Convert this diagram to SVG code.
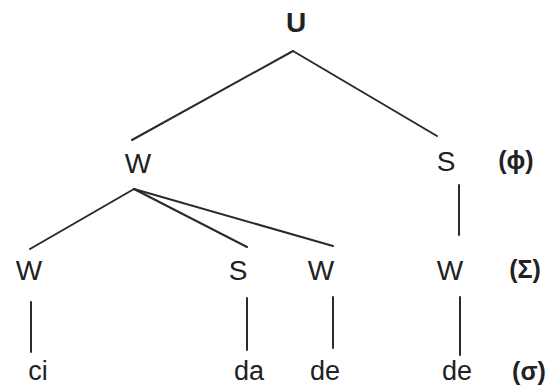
<svg xmlns="http://www.w3.org/2000/svg" width="548" height="387" viewBox="0 0 548 387">
<style>
.t{font-family:"Liberation Sans",Arial,sans-serif;font-size:28px;fill:#222;text-anchor:middle}
.b{font-weight:bold}
.s{font-size:27px}
.l{font-family:"Liberation Sans",Arial,sans-serif;font-size:25px;font-weight:bold;fill:#222;text-anchor:middle}
.c line{stroke:#2a2a2a;stroke-width:2;stroke-linecap:round}
</style>
<rect width="548" height="387" fill="#fff"/>
<g class="c" id="connectors">
<line x1="293" y1="51" x2="132" y2="140"/>
<line x1="293" y1="51" x2="437" y2="136"/>
<line x1="134" y1="189" x2="30" y2="249"/>
<line x1="134" y1="189" x2="247" y2="247"/>
<line x1="134" y1="189" x2="333" y2="246"/>
<line x1="31" y1="302" x2="31" y2="352"/>
<line x1="247" y1="298" x2="247" y2="350"/>
<line x1="333" y1="297" x2="333" y2="348"/>
<line x1="459" y1="185" x2="459" y2="235"/>
<line x1="460" y1="297" x2="460" y2="355"/>
</g>
<g id="n-U"><text class="t b" x="296" y="32" font-size="27">U</text></g>
<g id="n-W1"><text class="t" x="138" y="173">W</text></g>
<g id="n-S1"><text class="t" x="446" y="171">S</text></g>
<g id="n-W2a"><text class="t" x="29" y="280">W</text></g>
<g id="n-S2"><text class="t" x="238" y="280">S</text></g>
<g id="n-W2b"><text class="t" x="321" y="280">W</text></g>
<g id="n-W2c"><text class="t" x="450" y="280">W</text></g>
<g id="n-ci"><text class="t s" x="38" y="380">ci</text></g>
<g id="n-da"><text class="t s" x="249" y="380">da</text></g>
<g id="n-de1"><text class="t s" x="325" y="380">de</text></g>
<g id="n-de2"><text class="t s" x="457" y="380">de</text></g>
<g id="lab-phi"><text class="l" x="516" y="169">(ϕ)</text></g>
<g id="lab-Sigma"><text class="l" x="525" y="278">(Σ)</text></g>
<g id="lab-sigma"><text class="l" x="529" y="380">(σ)</text></g>
</svg>
